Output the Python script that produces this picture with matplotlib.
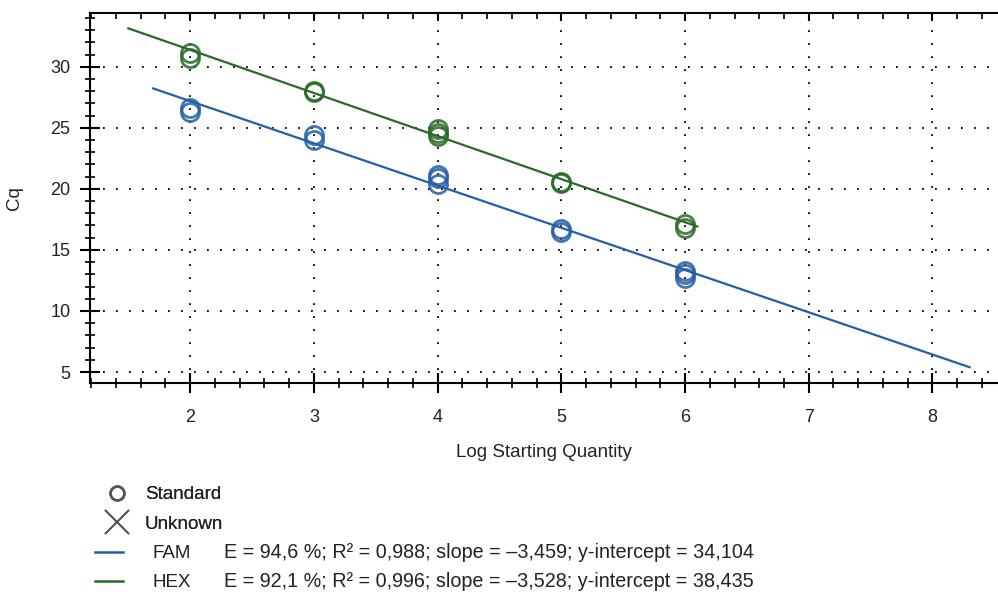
import matplotlib
matplotlib.use("Agg")
import matplotlib.pyplot as plt
from matplotlib.lines import Line2D
from matplotlib.ticker import MultipleLocator
import numpy as np

plt.rcParams["font.family"] = ["Liberation Sans", "DejaVu Sans"]

# ── Data ──────────────────────────────────────────────────
fam_x = [2, 2, 3, 3, 4, 4, 4, 5, 5, 6, 6, 6]
fam_cq = [26.3, 26.6, 24.0, 24.4, 20.4, 20.9, 21.1, 16.5, 16.7, 12.7, 13.0, 13.3]
hex_x = [2, 2, 3, 3, 4, 4, 4, 5, 5, 6, 6]
hex_cq = [30.7, 31.1, 27.9, 28.0, 24.3, 24.6, 24.9, 20.5, 20.6, 16.8, 17.1]

fam_slope, fam_icpt = -3.459, 34.104
hex_slope, hex_icpt = -3.528, 38.435
fam_fit_range = [1.7, 8.3]
hex_fit_range = [1.5, 6.1]

fam_stats = "E = 94,6 %; R\u00b2 = 0,988; slope = \u20133,459; y-intercept = 34,104"
hex_stats = "E = 92,1 %; R\u00b2 = 0,996; slope = \u20133,528; y-intercept = 38,435"

fam_c = "#245ea6"
hex_c = "#2a6a26"
grey = "#555555"
txt = "#222222"

# ── Layout ────────────────────────────────────────────────
W, H = 998, 592
fig = plt.figure(figsize=(W / 100, H / 100), dpi=100, facecolor="white")
ax = fig.add_axes([90 / W, 1 - 383 / H, 1 - 90 / W, (383 - 13) / H])

ax.set_xlim(1.19, 8.53)
ax.set_ylim(4.1, 34.4)

# fitted lines
for (x0, x1), m, b, c in [(fam_fit_range, fam_slope, fam_icpt, fam_c),
                          (hex_fit_range, hex_slope, hex_icpt, hex_c)]:
    xs = np.array([x0, x1])
    ax.plot(xs, m * xs + b, color=c, lw=1.6, zorder=3)

# standards
ax.plot(fam_x, fam_cq, linestyle="none", marker="o", ms=13, mfc="none",
        mec=fam_c, mew=2.0, alpha=0.85, zorder=4)
ax.plot(hex_x, hex_cq, linestyle="none", marker="o", ms=13, mfc="none",
        mec=hex_c, mew=2.0, alpha=0.85, zorder=4)

# ── Axes styling ──────────────────────────────────────────
ax.spines["right"].set_visible(False)
ax.spines["top"].set_visible(False)
for s in ("left", "bottom"):
    ax.spines[s].set_linewidth(1.5)

ax.xaxis.set_major_locator(MultipleLocator(1))
ax.xaxis.set_minor_locator(MultipleLocator(0.2))
ax.yaxis.set_major_locator(MultipleLocator(5))
ax.yaxis.set_minor_locator(MultipleLocator(1))

ax.tick_params(which="major", direction="inout", length=14, width=1.5,
               labelsize=13, colors="black", labelcolor=txt)
ax.tick_params(which="minor", direction="inout", length=7, width=1.2)
ax.tick_params(axis="y", which="major", pad=7)
ax.tick_params(axis="x", which="major", pad=12)

ax.grid(which="major", color="black", lw=1.3, linestyle=(0, (1, 6.2)))

top = ax.secondary_xaxis("top")
top.spines["top"].set_linewidth(1.5)
top.xaxis.set_major_locator(MultipleLocator(1))
top.xaxis.set_minor_locator(MultipleLocator(0.2))
top.tick_params(which="major", direction="in", length=6, width=1.5, labeltop=False)
top.tick_params(which="minor", direction="in", length=4, width=1.2)

ax.set_xlabel("Log Starting Quantity", fontsize=13.5, color=txt, labelpad=13)
ax.set_ylabel("Cq", fontsize=13.5, color=txt, labelpad=20)

# ── Legend ────────────────────────────────────────────────
fs = 13.5
fpx = fs * 100 / 72
mark_handles = [
    Line2D([0], [0], linestyle="none", marker="o", ms=10, mfc="none",
           mec=grey, mew=1.8, label="Standard"),
    Line2D([0], [0], linestyle="none", marker="x", ms=17, mec=grey,
           mew=1.3, label="Unknown"),
]
line_handles = [
    Line2D([0], [0], color=fam_c, lw=1.8, label="FAM"),
    Line2D([0], [0], color=hex_c, lw=1.8, label="HEX"),
]
leg1 = fig.legend(handles=mark_handles, loc="upper left",
                  bbox_to_anchor=(102 / W, 1 - 486 / H), frameon=False,
                  fontsize=fs, borderpad=0, borderaxespad=0,
                  handlelength=30 / fpx, handletextpad=13 / fpx,
                  labelspacing=0.66, labelcolor=txt)
leg2 = fig.legend(handles=line_handles, loc="upper left",
                  bbox_to_anchor=(95 / W, 1 - 545 / H), frameon=False,
                  fontsize=fs, borderpad=0, borderaxespad=0,
                  handlelength=28 / fpx, handletextpad=30 / fpx,
                  labelspacing=0.64, labelcolor=txt)
fig.add_artist(leg1)

fig.text(224 / W, 1 - 558 / H, fam_stats, fontsize=14.2, va="baseline", color=txt)
fig.text(224 / W, 1 - 587 / H, hex_stats, fontsize=14.2, va="baseline", color=txt)

fig.savefig("out.png", dpi=100, facecolor="white")
